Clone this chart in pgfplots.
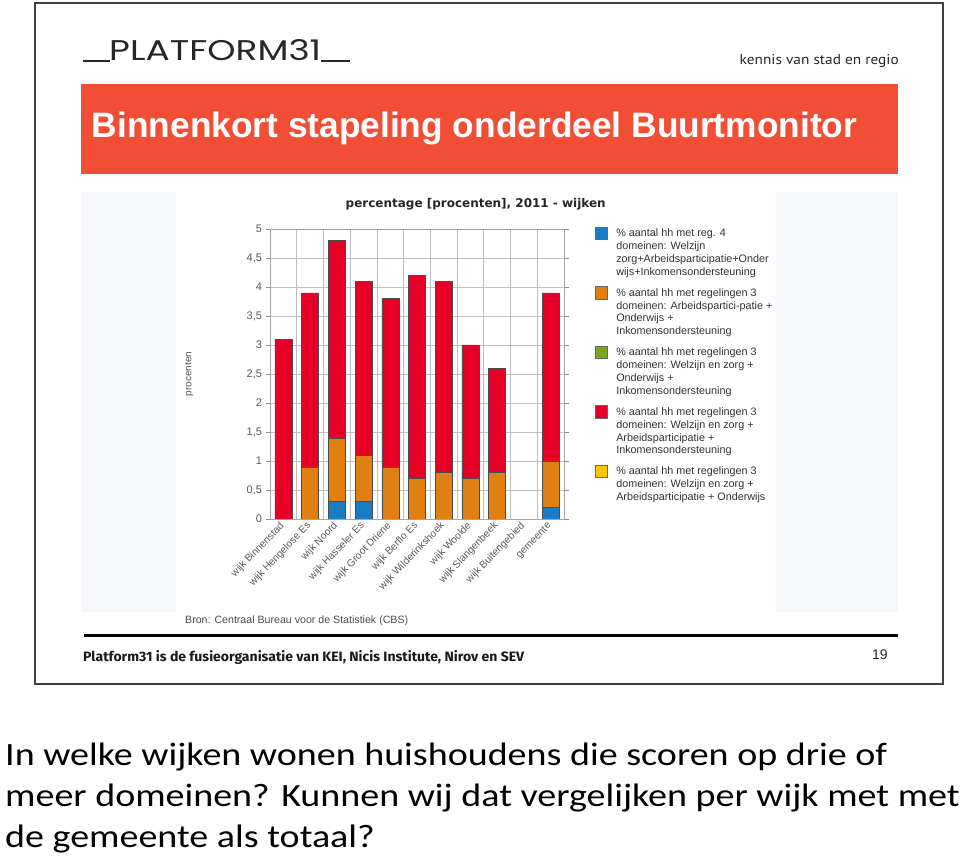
\documentclass[border=0pt]{standalone}
\usepackage{fontspec}
\setmainfont{Liberation Sans}
\newfontfamily\calfont{Carlito}
\newfontfamily\footfont{Fira Sans}
\newfontfamily\titlefont{DejaVu Sans}
\newfontfamily\logofont{Poppins}
\newfontfamily\smallfont{PT Sans}
\usepackage{graphicx}
\usepackage{pgfplots}
\usepackage{pgfplotstable}
\pgfplotsset{compat=1.18}

\definecolor{cblue}{RGB}{26,124,196}
\definecolor{corange}{RGB}{224,128,18}
\definecolor{cgreen}{RGB}{124,166,30}
\definecolor{cred}{RGB}{230,0,40}
\definecolor{cyellow}{RGB}{250,200,0}
\definecolor{banner}{RGB}{242,78,54}
\definecolor{panel}{RGB}{244,246,250}

\pgfplotstableread{
x blue orange green red yellow
0 0 0 0 3.1 0
1 0 0.9 0 3.0 0
2 0.3 1.1 0 3.4 0
3 0.3 0.8 0 3.0 0
4 0 0.9 0 2.9 0
5 0 0.7 0 3.5 0
6 0 0.8 0 3.3 0
7 0 0.7 0 2.3 0
8 0 0.8 0 1.8 0
10 0.2 0.8 0 2.9 0
}\datatable

\pgfplotsset{sqlegend/.style={legend image code/.code={\draw[##1,draw=black!60,line width=0.5pt] (0pt,-2.5pt) rectangle (12.5pt,10pt);}}}
\newcommand{\legtxt}[1]{\parbox[t]{175pt}{\raggedright #1}}

\begin{document}
\begin{tikzpicture}[x=1pt,y=1pt]
\path[use as bounding box] (0,0) rectangle (960,861);
\fill[white] (0,0) rectangle (960,861);
% slide frame
\draw[black!75, line width=1.6pt] (35,858) rectangle (943,177);
% logo
\draw[black!85, line width=2pt] (83,800) -- (110,800);
\draw[black!85, line width=2pt] (321,800) -- (350,800);
\node[anchor=base west, inner sep=0pt, text=black!85] at (109,800) {\resizebox{212pt}{21pt}{\logofont PLATFORM31}};
\node[anchor=base west, inner sep=0pt, text=black!85] at (739.5,796) {\resizebox{159pt}{10pt}{\smallfont kennis van stad en regio}};
% banner
\fill[banner] (81,777) rectangle (898,687);
\node[anchor=base west, inner sep=0pt, text=white] at (91.7,723.7) {\resizebox{765pt}{!}{\bfseries Binnenkort stapeling onderdeel Buurtmonitor}};
% panels
\fill[panel] (81,669) rectangle (176,249);
\fill[panel] (776,669) rectangle (898,249);
% chart title
\node[anchor=base west, inner sep=0pt, text=black!85] at (345.5,653.7) {\resizebox{260pt}{!}{\titlefont\bfseries percentage [procenten], 2011 - wijken}};

\begin{axis}[
  at={(270pt,342pt)}, anchor=south west,
  scale only axis, width=294pt, height=290pt,
  xmin=-0.5, xmax=10.5, ymin=0, ymax=5,
  ybar stacked, bar width=17pt,
  axis line style={black!35},
  xtick={0,1,2,3,4,5,6,7,8,9,10},
  xticklabels={wijk Binnenstad, wijk Hengelose Es, wijk Noord, wijk Hasseler Es, wijk Groot Driene, wijk Berflo Es, wijk Wilderinkshoek, wijk Woolde, wijk Slangenbeek, wijk Buitengebied, gemeente},
  x tick style={draw=none},
  minor xtick={-0.5,0.5,...,10.5},
  xminorgrids, minor x grid style={black!25, line width=0.7pt},
  ytick={0,0.5,...,5},
  ymajorgrids, major y grid style={black!25, line width=0.7pt},
  y tick style={black!45, line width=0.6pt},
  tick align=outside, major tick length=4.5pt, minor tick length=0pt,
  /pgf/number format/use comma,
  /pgf/number format/fixed,
  /pgf/number format/assume math mode=true,
  yticklabel style={font=\fontsize{11}{13}\selectfont, text=black!65},
  xticklabel style={rotate=46, anchor=east, font=\fontsize{10.2}{12}\selectfont, text=black!65, inner sep=1pt},
  ylabel={procenten},
  ylabel style={at={(axis description cs:-0.275,0.5)}, anchor=center, font=\fontsize{10}{12}\selectfont, text=black!65},
  legend style={at={(axis description cs:1.1046,1.0086)}, anchor=north west, draw=none, fill=none, inner sep=0pt, outer sep=0pt, row sep=45.8pt, column sep=6.5pt, font=\fontsize{10.8}{12.8}\selectfont, text=black!80, cells={anchor=base west, inner sep=0pt, outer sep=0pt}},
  every axis plot/.append style={draw=black!70, line width=0.5pt, sqlegend},
]
\addplot[fill=cblue] table[x=x,y=blue]{\datatable};
\addlegendentry{\legtxt{\% aantal hh met reg. 4\\domeinen: Welzijn\\zorg+Arbeidsparticipatie+Onder\\wijs+Inkomensondersteuning}}
\addplot[fill=corange] table[x=x,y=orange]{\datatable};
\addlegendentry{\legtxt{\% aantal hh met regelingen 3\\domeinen: Arbeidspartici-patie +\\Onderwijs +\\Inkomensondersteuning}}
\addplot[fill=cgreen, draw=none] table[x=x,y=green]{\datatable};
\addlegendentry{\legtxt{\% aantal hh met regelingen 3\\domeinen: Welzijn en zorg +\\Onderwijs +\\Inkomensondersteuning}}
\addplot[fill=cred] table[x=x,y=red]{\datatable};
\addlegendentry{\legtxt{\% aantal hh met regelingen 3\\domeinen: Welzijn en zorg +\\Arbeidsparticipatie +\\Inkomensondersteuning}}
\addplot[fill=cyellow, draw=none] table[x=x,y=yellow]{\datatable};
\addlegendentry{\legtxt{\% aantal hh met regelingen 3\\domeinen: Welzijn en zorg +\\Arbeidsparticipatie + Onderwijs}}
\end{axis}

% source
\node[anchor=base west, inner sep=0pt, text=black!70] at (185,237) {\resizebox{223pt}{!}{Bron: Centraal Bureau voor de Statistiek (CBS)}};
\draw[black, line width=3pt] (84,225.5) -- (898,225.5);
\node[anchor=base west, inner sep=0pt, text=black!90] at (83,199.3) {\resizebox{441pt}{11pt}{\footfont\bfseries Platform31 is de fusieorganisatie van KEI, Nicis Institute, Nirov en SEV}};
\node[anchor=base west, inner sep=0pt, text=black!85] at (872,201) {\fontsize{14}{16}\selectfont 19};
% question
\node[anchor=base west, inner sep=0pt] at (5,95) {\scalebox{1.17}[1]{\calfont\fontsize{32.5}{39}\selectfont In welke wijken wonen huishoudens die scoren op drie of}};
\node[anchor=base west, inner sep=0pt] at (5,54) {\scalebox{1.17}[1]{\calfont\fontsize{32.5}{39}\selectfont meer domeinen? Kunnen wij dat vergelijken per wijk met met}};
\node[anchor=base west, inner sep=0pt] at (5,13) {\scalebox{1.17}[1]{\calfont\fontsize{32.5}{39}\selectfont de gemeente als totaal?}};
\end{tikzpicture}
\end{document}
